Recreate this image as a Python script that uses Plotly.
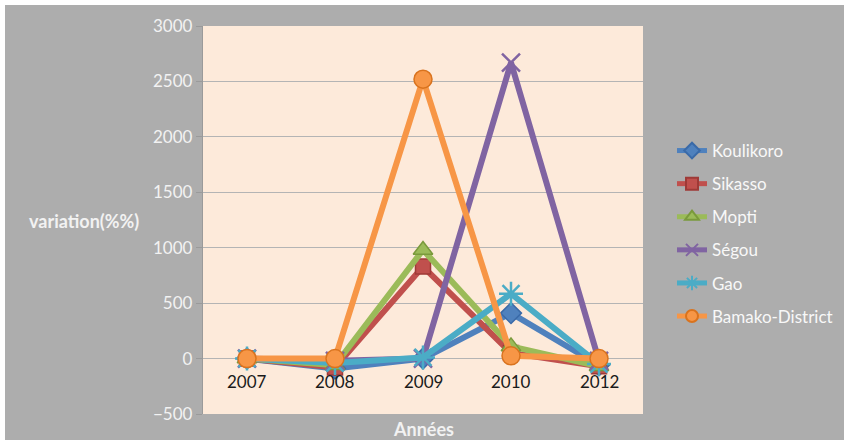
import plotly.graph_objects as go

years = ["2007", "2008", "2009", "2010", "2012"]
koulikoro = [0, -90, 0, 410, -60]
sikasso = [0, -80, 830, 50, -70]
mopti = [0, -60, 980, 110, -70]
segou = [0, -20, 0, 2670, -20]
gao = [0, -40, 10, 585, -50]
bamako = [0, 0, 2520, 25, 0]

series = [
    ("Koulikoro", koulikoro, "#4F81BD", "diamond", 16, "#3A6AA8"),
    ("Sikasso", sikasso, "#C0504D", "square", 15, "#9E3A37"),
    ("Mopti", mopti, "#9BBB59", "triangle-up", 17, "#7A9A3C"),
    ("Ségou", segou, "#8064A2", "x-thin-open", 18, "#8064A2"),
    ("Gao", gao, "#4BACC6", "asterisk-open", 20, "#4BACC6"),
    ("Bamako-District", bamako, "#F79646", "circle", 18, "#D9731E"),
]

W, H = 844, 440
L, R, T, B = 203, 201, 26, 26
pw, ph = W - L - R, H - T - B

fig = go.Figure()
for i, (name, vals, col, sym, sz, lc) in enumerate(series):
    fig.add_trace(go.Scatter(
        x=years, y=vals, name=name, mode="lines+markers",
        legendgroup=str(i),
        line=dict(color=col, width=6),
        marker=dict(symbol=sym, size=sz, color=col,
                    line=dict(color=lc, width=1.5 if "open" not in sym else 2.5)),
    ))

font = "Lato, 'Open Sans', sans-serif"

annotations = []
for idx, y in enumerate(years):
    annotations.append(dict(x=idx, y=0, xref="x", yref="y", text=y, showarrow=False,
                            xanchor="center", yanchor="middle",
                            yshift=-23, font=dict(family=font, size=17, color="#1a1a1a")))
annotations.append(dict(x=(84 - L) / pw, y=1 - (221 - T) / ph, xref="paper", yref="paper",
                        text="<b>variation(%%)</b>", showarrow=False,
                        xanchor="center", yanchor="middle",
                        font=dict(family=font, size=18, color="#F2F2F2")))
annotations.append(dict(x=(423 - L) / pw, y=1 - (429 - T) / ph, xref="paper", yref="paper",
                        text="<b>Années</b>", showarrow=False,
                        xanchor="center", yanchor="middle",
                        font=dict(family=font, size=18, color="#F2F2F2")))

shapes = [
    dict(type="rect", xref="paper", yref="paper", x0=-L / pw - 0.01, x1=(W - L) / pw + 0.02,
         y0=1 + (T - 5) / ph, y1=1 + T / ph + 0.01, fillcolor="white", line=dict(width=0), layer="below"),
    dict(type="rect", xref="paper", yref="paper", x0=-L / pw - 0.01, x1=(5 - L) / pw,
         y0=-B / ph - 0.01, y1=1 + T / ph + 0.01, fillcolor="white", line=dict(width=0), layer="below"),
]

fig.update_layout(
    width=W, height=H,
    margin=dict(l=L, r=R, t=T, b=B, autoexpand=False),
    paper_bgcolor="#ADADAD",
    plot_bgcolor="#FDEADA",
    showlegend=True,
    legend=dict(x=(672 - L) / pw, y=1 - (133 - T) / ph, xanchor="left", yanchor="top",
                bgcolor="rgba(0,0,0,0)", tracegroupgap=8,
                font=dict(family=font, size=17, color="#F8F8F8"), itemsizing="constant"),
    xaxis=dict(type="category", range=[-0.5, 4.5], showticklabels=False, showgrid=False,
               zeroline=False, showline=False, ticks=""),
    yaxis=dict(range=[-500, 3000], tick0=-500, dtick=500, showgrid=True, gridcolor="#B4B4B4",
               gridwidth=1.3, zeroline=True, zerolinecolor="#B4B4B4", zerolinewidth=1.3,
               showline=True, linecolor="#9A9A9A", linewidth=1.3, ticks="outside", ticklen=6,
               tickcolor="#9A9A9A", tickfont=dict(family=font, size=17, color="#F2F2F2")),
    annotations=annotations,
    shapes=shapes,
)

fig.write_html("out.html")
